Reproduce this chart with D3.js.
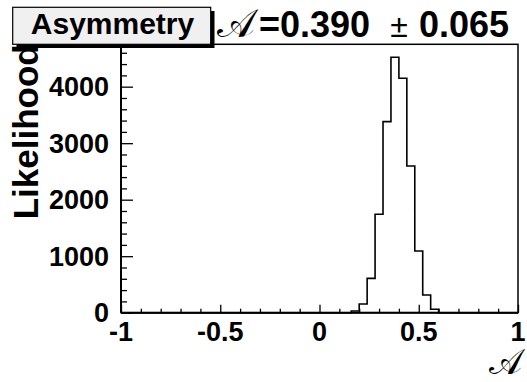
<!DOCTYPE html>
<html>
<head>
<meta charset="utf-8">
<script src="https://cdn.jsdelivr.net/npm/d3@7"></script>
<style>
  html, body { margin: 0; padding: 0; background: #fff; }
  svg { display: block; }
  text { font-family: "Liberation Sans", Arial, Helvetica, sans-serif; font-weight: bold; fill: #000; }
</style>
</head>
<body>
<script>
// ---- data ----
const binWidth = 0.04;
const binLow = [0.16, 0.20, 0.24, 0.28, 0.32, 0.36, 0.40, 0.44, 0.48, 0.52, 0.56];
const binCounts = [30, 154, 608, 1741, 3381, 4520, 4149, 2596, 1092, 313, 60];
const xTickValues = [-1, -0.5, 0, 0.5, 1];
const xTickLabels = ["-1", "-0.5", "0", "0.5", "1"];
const yTickValues = [0, 1000, 2000, 3000, 4000];
const yTickLabels = ["0", "1000", "2000", "3000", "4000"];
const titleText = "Asymmetry";
const resultValue = "0.390";
const resultError = "0.065";
const yTitle = "Likelihood";

// ---- layout ----
const W = 527, H = 382;
const pL = 121, pR = 518, pT = 44.3, pB = 312.7;
const scriptFont = "'DejaVu Serif', 'Liberation Serif', 'Noto Sans', serif";

const svg = d3.select("body").append("svg").attr("width", W).attr("height", H);

const x = d3.scaleLinear().domain([-1, 1]).range([pL, pR]);
const y = d3.scaleLinear().domain([0, 4750]).range([pB, pT]);

// frame
svg.append("rect").attr("x", pL).attr("y", pT)
  .attr("width", pR - pL).attr("height", pB - pT)
  .attr("fill", "none").attr("stroke", "#000").attr("stroke-width", 1.5);

// histogram outline (step path)
const pts = [[x(-1), y(0)], [x(binLow[0]), y(0)]];
binLow.forEach((lo, i) => {
  pts.push([x(lo), y(binCounts[i])]);
  pts.push([x(lo + binWidth), y(binCounts[i])]);
});
pts.push([x(binLow[binLow.length - 1] + binWidth), y(0)]);
pts.push([x(1), y(0)]);
svg.append("path").attr("d", d3.line()(pts))
  .attr("fill", "none").attr("stroke", "#000").attr("stroke-width", 1.6);

// y axis ticks
const yMinor = d3.range(0, 4701, 200).filter(v => v % 1000 !== 0);
const gyMinor = svg.append("g").attr("transform", `translate(${pL},0)`)
  .call(d3.axisRight(y).tickValues(yMinor).tickSize(6).tickFormat(""));
const gyMajor = svg.append("g").attr("transform", `translate(${pL},0)`)
  .call(d3.axisRight(y).tickValues(yTickValues).tickSize(12).tickFormat(""));
[gyMinor, gyMajor].forEach(g => {
  g.select(".domain").remove();
  g.selectAll("line").attr("stroke", "#000").attr("stroke-width", 1.3);
});
svg.append("g").selectAll("text").data(yTickValues).join("text")
  .attr("x", pL - 12).attr("y", d => y(d)).attr("dy", "0.36em")
  .attr("text-anchor", "end").attr("font-size", 27)
  .text((d, i) => yTickLabels[i]);

// x axis ticks
const xMinor = d3.range(-10, 11).map(v => v / 10).filter(v => Math.abs(v * 2 - Math.round(v * 2)) > 1e-9);
const gxMinor = svg.append("g").attr("transform", `translate(0,${pB})`)
  .call(d3.axisTop(x).tickValues(xMinor).tickSize(4).tickFormat(""));
const gxMajor = svg.append("g").attr("transform", `translate(0,${pB})`)
  .call(d3.axisTop(x).tickValues(xTickValues).tickSize(8).tickFormat(""));
[gxMinor, gxMajor].forEach(g => {
  g.select(".domain").remove();
  g.selectAll("line").attr("stroke", "#000").attr("stroke-width", 1.3);
});
svg.append("g").selectAll("text").data(xTickValues).join("text")
  .attr("x", d => x(d)).attr("y", 341)
  .attr("text-anchor", "middle").attr("font-size", 27)
  .text((d, i) => xTickLabels[i]);

// thicker left and bottom axis lines
svg.append("line").attr("x1", pL).attr("x2", pL).attr("y1", pT).attr("y2", pB)
  .attr("stroke", "#000").attr("stroke-width", 2);
svg.append("line").attr("x1", pL).attr("x2", pR).attr("y1", pB).attr("y2", pB)
  .attr("stroke", "#000").attr("stroke-width", 2);

// x axis title (script A)
svg.append("text").attr("x", 522).attr("y", 374).attr("text-anchor", "end")
  .attr("font-size", 35).style("font-family", scriptFont)
  .style("font-weight", "normal")
  .text("\u{1D49C}");

// y axis title
svg.append("text")
  .attr("transform", `translate(38,${pT}) rotate(-90)`)
  .attr("text-anchor", "end").attr("font-size", 35)
  .text(yTitle);

// title box with shadow
svg.append("rect").attr("x", 16.5).attr("y", 11).attr("width", 198).attr("height", 37).attr("fill", "#000");
svg.append("rect").attr("x", 12.7).attr("y", 7.3).attr("width", 198).attr("height", 37)
  .attr("fill", "#f0f0f0").attr("stroke", "#000").attr("stroke-width", 1.2);
svg.append("text").attr("x", 112.5).attr("y", 34).attr("text-anchor", "middle")
  .attr("font-size", 30).text(titleText);

// result text
svg.append("text").attr("x", 255).attr("y", 37).attr("text-anchor", "end")
  .attr("font-size", 40).style("font-family", scriptFont).style("font-weight", "normal")
  .text("\u{1D49C}");
svg.append("text").attr("x", 259).attr("y", 37).attr("font-size", 36)
  .text("=" + resultValue);
svg.append("text").attr("x", 399).attr("y", 37).attr("text-anchor", "middle")
  .attr("font-size", 32).style("font-weight", "normal").text("\u00B1");
svg.append("text").attr("x", 509).attr("y", 37).attr("text-anchor", "end")
  .attr("font-size", 36).text(resultError);
</script>
</body>
</html>
